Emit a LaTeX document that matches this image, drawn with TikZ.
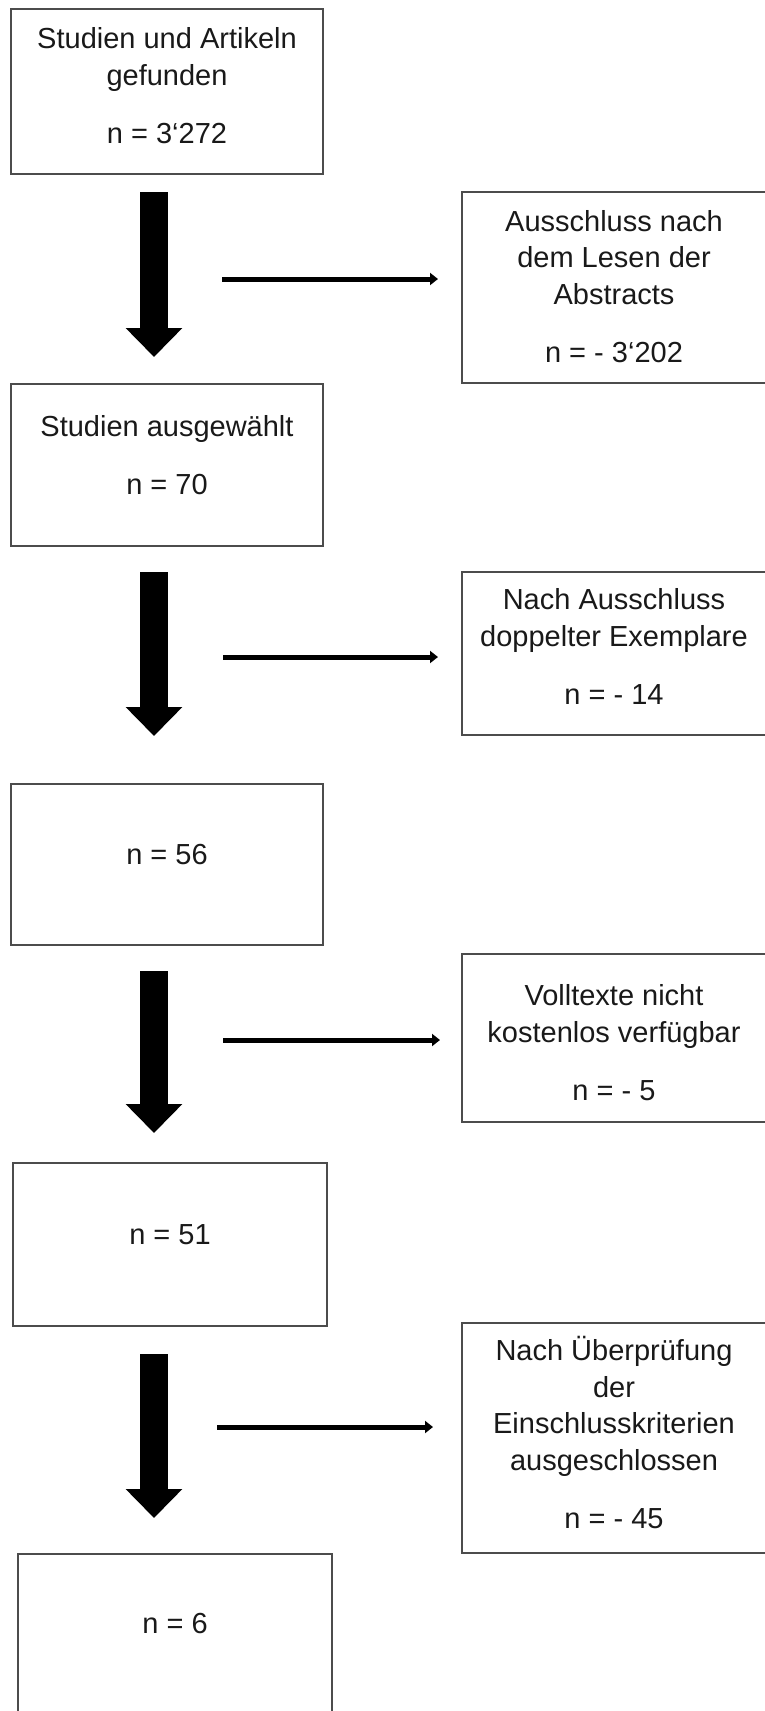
\documentclass[tikz,border=0pt]{standalone}
\usepackage{fontspec}
\setmainfont{Liberation Sans}
\usetikzlibrary{arrows.meta}
\tikzset{
  x=1pt, y=-1pt,
  boxnode/.style={draw=black!70, line width=2pt, minimum width=312pt, inner sep=0pt, rectangle},
  sidebox/.style={draw=none, minimum width=304pt, inner sep=0pt, rectangle},
  sideline/.style={draw=black!70, line width=2pt},
  txt/.style={font=\fontsize{29}{36.5}\selectfont, text=black!90, align=center, inner sep=0pt, anchor=base},
  bigarrow/.style={line width=28pt, -{Triangle[length=29pt,width=55pt]}},
  thinarrow/.style={line width=5pt, -{Triangle[length=8pt,width=12pt]}},
}
\begin{document}
\begin{tikzpicture}
\useasboundingbox (0,0) rectangle (765,1711);
% left boxes
\node[boxnode, minimum height=165pt] (A) at (167,91.5) {};
\node[boxnode, minimum height=162pt] (B) at (167,465) {};
\node[boxnode, minimum height=161pt] (C) at (167,864.5) {};
\node[boxnode, minimum width=314pt, minimum height=163pt] (D) at (170,1244.5) {};
\node[sidebox, minimum width=314pt, minimum height=170pt] (E) at (175,1639) {};
\draw[sideline] (E.south west) -- (E.north west) -- (E.north east) -- (E.south east);
% right boxes
\node[sidebox, minimum height=191pt] (R1) at (614,287.5) {};
\node[sidebox, minimum height=163pt] (R2) at (614.5,653.5) {};
\node[sidebox, minimum height=168pt] (R3) at (614,1038) {};
\node[sidebox, minimum height=230pt] (R4) at (614.5,1438) {};
\foreach \r in {R1,R2,R3,R4}{
  \draw[sideline] (\r.north east) -- (\r.north west) -- (\r.south west) -- (\r.south east);
}
% texts (anchored at the baseline of the last line)
\node[txt] (tA) at (167,143) {Studien und Artikeln\\gefunden\\[21.5pt]n = 3‘272};
\node[txt] (tB) at (167,494) {Studien ausgewählt\\[21.5pt]n = 70};
\node[txt] (tC) at (167,864) {n = 56};
\node[txt] (tD) at (170,1244) {n = 51};
\node[txt] (tE) at (175,1633) {n = 6};
\node[txt] (tR1) at (614,362) {Ausschluss nach\\dem Lesen der\\Abstracts\\[21.5pt]n = - 3‘202};
\node[txt] (tR2) at (614,704) {Nach Ausschluss\\doppelter Exemplare\\[21.5pt]n = - 14};
\node[txt] (tR3) at (614,1100) {Volltexte nicht\\kostenlos verfügbar\\[21.5pt]n = - 5};
\node[txt] (tR4) at (614,1528) {Nach Überprüfung\\der\\Einschlusskriterien\\ausgeschlossen\\[21.5pt]n = - 45};
% big down arrows
\coordinate (a1s) at (154,192); \coordinate (a1e) at (154,357);
\coordinate (a2s) at (154,572); \coordinate (a2e) at (154,736);
\coordinate (a3s) at (154,971); \coordinate (a3e) at (154,1133);
\coordinate (a4s) at (154,1354); \coordinate (a4e) at (154,1518);
\draw[bigarrow] (a1s) -- (a1e);
\draw[bigarrow] (a2s) -- (a2e);
\draw[bigarrow] (a3s) -- (a3e);
\draw[bigarrow] (a4s) -- (a4e);
% horizontal arrows
\coordinate (h1s) at (222,279); \coordinate (h1e) at (438,279);
\coordinate (h2s) at (223,657); \coordinate (h2e) at (438,657);
\coordinate (h3s) at (223,1040); \coordinate (h3e) at (440,1040);
\coordinate (h4s) at (217,1427); \coordinate (h4e) at (433,1427);
\draw[thinarrow] (h1s) -- (h1e);
\draw[thinarrow] (h2s) -- (h2e);
\draw[thinarrow] (h3s) -- (h3e);
\draw[thinarrow] (h4s) -- (h4e);
\end{tikzpicture}
\end{document}
